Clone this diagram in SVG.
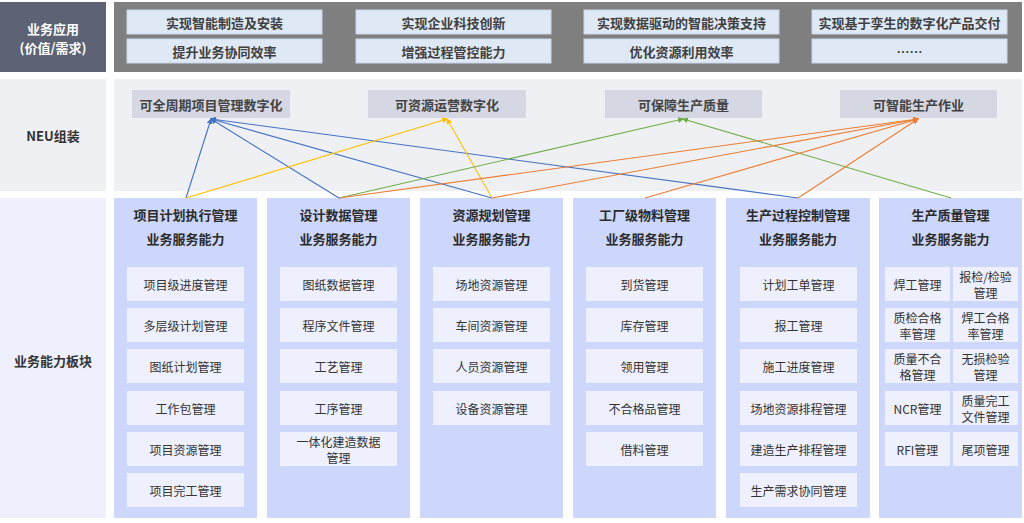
<svg xmlns="http://www.w3.org/2000/svg" width="1024" height="523" viewBox="0 0 1024 523">
<style>
text{font-family:"Noto Sans CJK SC","Noto Sans",sans-serif;text-anchor:middle;dominant-baseline:central}
.hdr{font-size:13px;font-weight:bold;fill:#2b2b2b}
.lbl{font-size:13px;font-weight:bold;fill:#333}
.wlbl{font-size:13px;font-weight:bold;fill:#fff}
.top{fill:#dfe9f6;stroke:#c9d6ea;stroke-width:1}
.toptx{font-size:13px;font-weight:bold;fill:#404040}
.neu{fill:#d5d7e3}
.neutx{font-size:13px;font-weight:bold;fill:#444}
.col{fill:#cdd7fb}
.item{fill:#eef0fd}
.it{font-size:12px;fill:#333}
.ln{fill:none;stroke-width:1.1}
</style>
<defs>
<marker id="mb" viewBox="0 0 6 6" refX="5" refY="3" markerWidth="6" markerHeight="6" orient="auto" markerUnits="userSpaceOnUse"><path d="M0,0L6,3L0,6z" fill="#4472c4"/></marker>
<marker id="my" viewBox="0 0 6 6" refX="5" refY="3" markerWidth="6" markerHeight="6" orient="auto" markerUnits="userSpaceOnUse"><path d="M0,0L6,3L0,6z" fill="#ffc000"/></marker>
<marker id="mg" viewBox="0 0 6 6" refX="5" refY="3" markerWidth="6" markerHeight="6" orient="auto" markerUnits="userSpaceOnUse"><path d="M0,0L6,3L0,6z" fill="#70ad47"/></marker>
<marker id="mo" viewBox="0 0 6 6" refX="5" refY="3" markerWidth="6" markerHeight="6" orient="auto" markerUnits="userSpaceOnUse"><path d="M0,0L6,3L0,6z" fill="#ed7d31"/></marker>
</defs>
<rect width="1024" height="523" fill="#fff"/>

<!-- Row 1 -->
<g id="row-app">
<rect x="0" y="2" width="106" height="70" fill="#5d6374"/>
<text class="wlbl" x="53" y="28">业务应用</text>
<text class="wlbl" x="53" y="47">(价值/需求)</text>
<rect x="114" y="2" width="908" height="70" fill="#7f7f7f"/>
</g>
<g id="app-1"><rect class="top" x="127" y="10" width="195" height="24"/><text class="toptx" x="224.5" y="22">实现智能制造及安装</text></g>
<g id="app-2"><rect class="top" x="356" y="10" width="195" height="24"/><text class="toptx" x="453.5" y="22">实现企业科技创新</text></g>
<g id="app-3"><rect class="top" x="584" y="10" width="195" height="24"/><text class="toptx" x="681.5" y="22">实现数据驱动的智能决策支持</text></g>
<g id="app-4"><rect class="top" x="812" y="10" width="195" height="24"/><text class="toptx" x="909.5" y="22">实现基于孪生的数字化产品交付</text></g>
<g id="app-5"><rect class="top" x="127" y="39" width="195" height="24"/><text class="toptx" x="224.5" y="51">提升业务协同效率</text></g>
<g id="app-6"><rect class="top" x="356" y="39" width="195" height="24"/><text class="toptx" x="453.5" y="51">增强过程管控能力</text></g>
<g id="app-7"><rect class="top" x="584" y="39" width="195" height="24"/><text class="toptx" x="681.5" y="51">优化资源利用效率</text></g>
<g id="app-8"><rect class="top" x="812" y="39" width="195" height="24"/><text class="toptx" x="909.5" y="51">……</text></g>

<!-- Row 2 -->
<g id="row-neu">
<rect x="0" y="79" width="106" height="112" fill="#eff0f4"/>
<text class="lbl" x="53" y="135">NEU组装</text>
<rect x="114" y="79" width="908" height="112" fill="#eff0f4"/>
</g>
<g id="neu-1"><rect class="neu" x="132" y="90" width="158" height="28"/><text class="neutx" x="211" y="104">可全周期项目管理数字化</text></g>
<g id="neu-2"><rect class="neu" x="368" y="90" width="158" height="28"/><text class="neutx" x="447" y="104">可资源运营数字化</text></g>
<g id="neu-3"><rect class="neu" x="605" y="90" width="157" height="28"/><text class="neutx" x="683.5" y="104">可保障生产质量</text></g>
<g id="neu-4"><rect class="neu" x="840" y="90" width="157" height="28"/><text class="neutx" x="918.5" y="104">可智能生产作业</text></g>

<!-- Row 3 -->
<g id="row-cap">
<rect x="0" y="198" width="106" height="320" fill="#eef0fd"/>
<text class="lbl" x="53" y="360">业务能力板块</text>
</g>

<g id="cap-1">
<rect class="col" x="114" y="198" width="143" height="320"/>
<text class="hdr" x="185.5" y="214">项目计划执行管理</text>
<text class="hdr" x="185.5" y="238">业务服务能力</text>
<rect class="item" x="127" y="267" width="117" height="34"/><text class="it" x="185.5" y="284">项目级进度管理</text>
<rect class="item" x="127" y="308" width="117" height="34"/><text class="it" x="185.5" y="325">多层级计划管理</text>
<rect class="item" x="127" y="349" width="117" height="34"/><text class="it" x="185.5" y="366">图纸计划管理</text>
<rect class="item" x="127" y="391" width="117" height="34"/><text class="it" x="185.5" y="408">工作包管理</text>
<rect class="item" x="127" y="432" width="117" height="34"/><text class="it" x="185.5" y="449">项目资源管理</text>
<rect class="item" x="127" y="473" width="117" height="34"/><text class="it" x="185.5" y="490">项目完工管理</text>
</g>

<g id="cap-2">
<rect class="col" x="267" y="198" width="143" height="320"/>
<text class="hdr" x="338.5" y="214">设计数据管理</text>
<text class="hdr" x="338.5" y="238">业务服务能力</text>
<rect class="item" x="280" y="267" width="117" height="34"/><text class="it" x="338.5" y="284">图纸数据管理</text>
<rect class="item" x="280" y="308" width="117" height="34"/><text class="it" x="338.5" y="325">程序文件管理</text>
<rect class="item" x="280" y="349" width="117" height="34"/><text class="it" x="338.5" y="366">工艺管理</text>
<rect class="item" x="280" y="391" width="117" height="34"/><text class="it" x="338.5" y="408">工序管理</text>
<rect class="item" x="280" y="432" width="117" height="34"/><text class="it" x="338.5" y="441">一体化建造数据</text><text class="it" x="338.5" y="457">管理</text>
</g>

<g id="cap-3">
<rect class="col" x="420" y="198" width="143" height="320"/>
<text class="hdr" x="491.5" y="214">资源规划管理</text>
<text class="hdr" x="491.5" y="238">业务服务能力</text>
<rect class="item" x="433" y="267" width="117" height="34"/><text class="it" x="491.5" y="284">场地资源管理</text>
<rect class="item" x="433" y="308" width="117" height="34"/><text class="it" x="491.5" y="325">车间资源管理</text>
<rect class="item" x="433" y="349" width="117" height="34"/><text class="it" x="491.5" y="366">人员资源管理</text>
<rect class="item" x="433" y="391" width="117" height="34"/><text class="it" x="491.5" y="408">设备资源管理</text>
</g>

<g id="cap-4">
<rect class="col" x="573" y="198" width="143" height="320"/>
<text class="hdr" x="644.5" y="214">工厂级物料管理</text>
<text class="hdr" x="644.5" y="238">业务服务能力</text>
<rect class="item" x="586" y="267" width="117" height="34"/><text class="it" x="644.5" y="284">到货管理</text>
<rect class="item" x="586" y="308" width="117" height="34"/><text class="it" x="644.5" y="325">库存管理</text>
<rect class="item" x="586" y="349" width="117" height="34"/><text class="it" x="644.5" y="366">领用管理</text>
<rect class="item" x="586" y="391" width="117" height="34"/><text class="it" x="644.5" y="408">不合格品管理</text>
<rect class="item" x="586" y="432" width="117" height="34"/><text class="it" x="644.5" y="449">借料管理</text>
</g>

<g id="cap-5">
<rect class="col" x="726" y="198" width="144" height="320"/>
<text class="hdr" x="798" y="214">生产过程控制管理</text>
<text class="hdr" x="798" y="238">业务服务能力</text>
<rect class="item" x="740" y="267" width="117" height="34"/><text class="it" x="798.5" y="284">计划工单管理</text>
<rect class="item" x="740" y="308" width="117" height="34"/><text class="it" x="798.5" y="325">报工管理</text>
<rect class="item" x="740" y="349" width="117" height="34"/><text class="it" x="798.5" y="366">施工进度管理</text>
<rect class="item" x="740" y="391" width="117" height="34"/><text class="it" x="798.5" y="408">场地资源排程管理</text>
<rect class="item" x="740" y="432" width="117" height="34"/><text class="it" x="798.5" y="449">建造生产排程管理</text>
<rect class="item" x="740" y="473" width="117" height="34"/><text class="it" x="798.5" y="490">生产需求协同管理</text>
</g>

<g id="cap-6">
<rect class="col" x="879" y="198" width="143" height="320"/>
<text class="hdr" x="950.5" y="214">生产质量管理</text>
<text class="hdr" x="950.5" y="238">业务服务能力</text>
<rect class="item" x="885" y="267" width="65" height="34"/><text class="it" x="917.5" y="284">焊工管理</text>
<rect class="item" x="953" y="267" width="65" height="34"/><text class="it" x="985.5" y="276">报检/检验</text><text class="it" x="985.5" y="292">管理</text>
<rect class="item" x="885" y="308" width="65" height="34"/><text class="it" x="917.5" y="317">质检合格</text><text class="it" x="917.5" y="333">率管理</text>
<rect class="item" x="953" y="308" width="65" height="34"/><text class="it" x="985.5" y="317">焊工合格</text><text class="it" x="985.5" y="333">率管理</text>
<rect class="item" x="885" y="349" width="65" height="34"/><text class="it" x="917.5" y="358">质量不合</text><text class="it" x="917.5" y="374">格管理</text>
<rect class="item" x="953" y="349" width="65" height="34"/><text class="it" x="985.5" y="358">无损检验</text><text class="it" x="985.5" y="374">管理</text>
<rect class="item" x="885" y="391" width="65" height="34"/><text class="it" x="917.5" y="408">NCR管理</text>
<rect class="item" x="953" y="391" width="65" height="34"/><text class="it" x="985.5" y="400">质量完工</text><text class="it" x="985.5" y="416">文件管理</text>
<rect class="item" x="885" y="432" width="65" height="34"/><text class="it" x="917.5" y="449">RFI管理</text>
<rect class="item" x="953" y="432" width="65" height="34"/><text class="it" x="985.5" y="449">尾项管理</text>
</g>

<!-- Connectors -->
<g id="connectors">
<line class="ln" stroke="#4472c4" x1="186" y1="198" x2="211" y2="119" marker-end="url(#mb)"/>
<line class="ln" stroke="#4472c4" x1="339" y1="198" x2="211" y2="119" marker-end="url(#mb)"/>
<line class="ln" stroke="#4472c4" x1="492" y1="198" x2="211" y2="119" marker-end="url(#mb)"/>
<line class="ln" stroke="#4472c4" x1="798" y1="198" x2="211" y2="119" marker-end="url(#mb)"/>
<line class="ln" stroke="#ffc000" x1="186" y1="198" x2="447" y2="119" marker-end="url(#my)"/>
<line class="ln" stroke="#ffc000" x1="492" y1="198" x2="447" y2="119" marker-end="url(#my)"/>
<line class="ln" stroke="#70ad47" x1="339" y1="198" x2="683" y2="119" marker-end="url(#mg)"/>
<line class="ln" stroke="#70ad47" x1="951" y1="198" x2="683" y2="119" marker-end="url(#mg)"/>
<line class="ln" stroke="#ed7d31" x1="339" y1="198" x2="918" y2="119" marker-end="url(#mo)"/>
<line class="ln" stroke="#ed7d31" x1="492" y1="198" x2="918" y2="119" marker-end="url(#mo)"/>
<line class="ln" stroke="#ed7d31" x1="645" y1="198" x2="918" y2="119" marker-end="url(#mo)"/>
<line class="ln" stroke="#ed7d31" x1="798" y1="198" x2="918" y2="119" marker-end="url(#mo)"/>
</g>
</svg>
